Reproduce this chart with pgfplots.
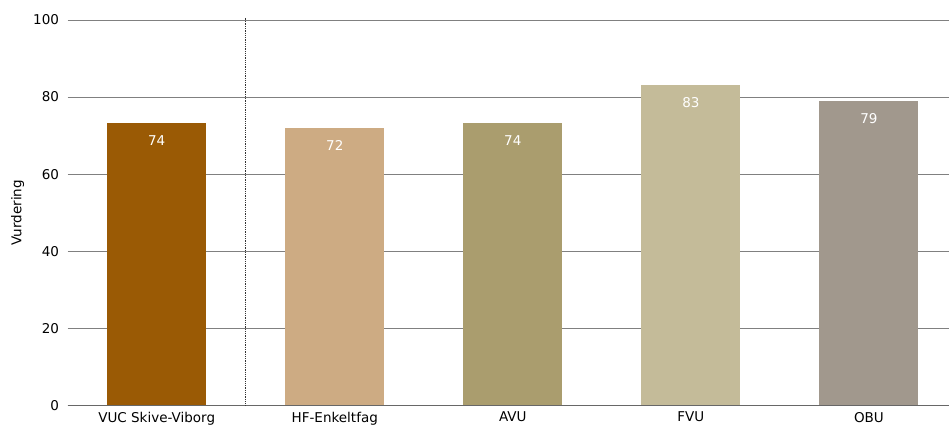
\documentclass[border=0pt]{standalone}
\usepackage{pgfplots}
\pgfplotsset{compat=1.18}
\usepackage{fontspec}
\setmainfont{DejaVu Sans}
\definecolor{cA}{RGB}{154,90,5}
\definecolor{cB}{RGB}{205,171,131}
\definecolor{cC}{RGB}{170,157,110}
\definecolor{cD}{RGB}{196,187,153}
\definecolor{cE}{RGB}{161,152,141}
\definecolor{gridc}{RGB}{128,128,128}
\begin{document}
\fontsize{13.5bp}{16bp}\selectfont
\begin{tikzpicture}
\begin{axis}[
  scale only axis,
  width=881.3bp, height=385.3bp,
  xmin=-0.5, xmax=4.45,
  ymin=0, ymax=100,
  ytick={0,20,40,60,80,100},
  xtick={0,1,2,3,4},
  xticklabels={VUC Skive-Viborg,HF-Enkeltfag,AVU,FVU,OBU},
  ymajorgrids,
  grid style={gridc, line width=0.8pt},
  axis x line*=bottom,
  axis y line*=left,
  y axis line style={draw=none},
  x axis line style={gridc!80!black, line width=0.8pt, -},
  major tick length=0pt,
  ylabel={Vurdering},
  ylabel style={font=\fontsize{12.5bp}{15bp}\selectfont},
  every axis y label/.style={at={(rel axis cs:0,0.5)}, xshift=-50bp, rotate=90, anchor=center},
  yticklabel style={font=\fontsize{13.5bp}{16bp}\selectfont, xshift=-4bp},
  xticklabel style={font=\fontsize{13.5bp}{16bp}\selectfont, yshift=-2bp},
  /pgf/number format/assume math mode=true,
  ybar, bar width=0.556, bar shift=0pt,
  point meta=explicit symbolic,
  nodes near coords,
  every node near coord/.append style={anchor=north, yshift=-8bp, text=white, font=\fontsize{13.5bp}{16bp}\selectfont},
  clip=false,
]
\addplot[fill=cA, draw=none] coordinates {(0,73.3) [74]};
\addplot[fill=cB, draw=none] coordinates {(1,72.0) [72]};
\addplot[fill=cC, draw=none] coordinates {(2,73.3) [74]};
\addplot[fill=cD, draw=none] coordinates {(3,83.1) [83]};
\addplot[fill=cE, draw=none] coordinates {(4,79.0) [79]};
\draw[densely dotted, black!80, line width=0.8pt] (axis cs:0.5,0) -- (axis cs:0.5,100.6);
\coordinate (sw) at (rel axis cs:0,0);
\coordinate (ne) at (rel axis cs:1,1);
\end{axis}
\pgfresetboundingbox
\path ([xshift=-67.7bp,yshift=-23.7bp]sw) rectangle ([yshift=20bp]ne);
\end{tikzpicture}
\end{document}
